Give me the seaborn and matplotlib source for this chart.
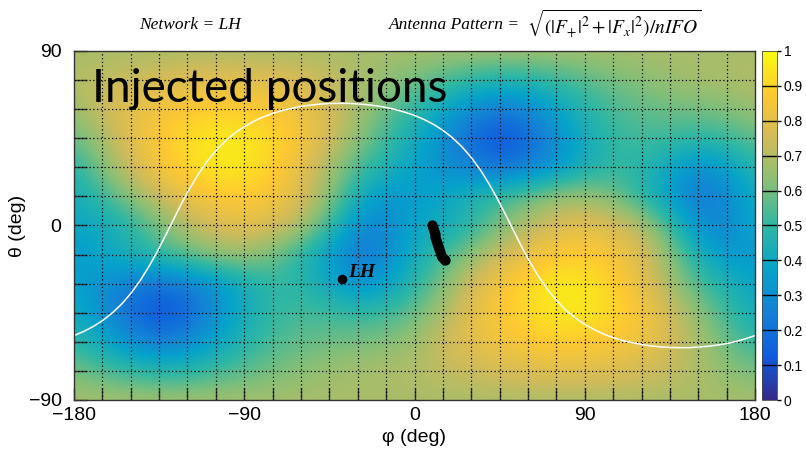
import numpy as np
import pandas as pd
import matplotlib
matplotlib.use("Agg")
import matplotlib.pyplot as plt
from matplotlib.colors import LinearSegmentedColormap
import seaborn as sns

# ---------------- data ----------------
phi_grid = list(range(-180, 181, 15))            # 25 columns
theta_grid = list(range(90, -91, -15))           # 13 rows (top -> bottom)

row_p90 = [0.68] * 25
row_p75 = [0.70,0.72,0.74,0.76,0.78,0.79,0.79,0.78,0.76,0.73,0.69,0.64,0.60,0.55,0.50,0.47,0.48,0.52,0.56,0.60,0.63,0.66,0.68,0.69,0.70]
row_p60 = [0.66,0.75,0.80,0.84,0.87,0.89,0.88,0.86,0.82,0.76,0.68,0.59,0.50,0.40,0.30,0.24,0.28,0.38,0.47,0.54,0.57,0.59,0.60,0.62,0.66]
row_p45 = [0.58,0.68,0.80,0.87,0.92,0.96,0.95,0.92,0.86,0.76,0.64,0.52,0.42,0.30,0.18,0.09,0.16,0.30,0.42,0.50,0.53,0.52,0.50,0.52,0.58]
row_p30 = [0.48,0.62,0.75,0.85,0.92,0.96,0.95,0.90,0.80,0.68,0.54,0.46,0.38,0.30,0.25,0.20,0.24,0.32,0.42,0.50,0.48,0.40,0.30,0.36,0.48]
row_p15 = [0.42,0.52,0.64,0.74,0.82,0.87,0.88,0.85,0.78,0.64,0.44,0.33,0.34,0.40,0.46,0.52,0.58,0.65,0.66,0.60,0.48,0.35,0.22,0.28,0.42]
row_0   = [0.40,0.40,0.48,0.60,0.70,0.77,0.80,0.77,0.70,0.52,0.30,0.27,0.40,0.40,0.48,0.60,0.70,0.77,0.80,0.77,0.70,0.52,0.30,0.27,0.40]
row_m15 = [0.34,0.40,0.46,0.52,0.58,0.65,0.66,0.60,0.48,0.35,0.22,0.28,0.42,0.52,0.64,0.74,0.82,0.87,0.88,0.85,0.78,0.64,0.44,0.33,0.34]
row_m30 = [0.38,0.30,0.25,0.20,0.24,0.32,0.42,0.50,0.48,0.40,0.30,0.36,0.48,0.62,0.75,0.85,0.92,0.96,0.95,0.90,0.80,0.68,0.54,0.46,0.38]
row_m45 = [0.42,0.30,0.18,0.09,0.16,0.30,0.42,0.50,0.53,0.52,0.50,0.52,0.58,0.68,0.80,0.87,0.92,0.96,0.95,0.92,0.86,0.76,0.64,0.52,0.42]
row_m60 = [0.50,0.40,0.30,0.24,0.28,0.38,0.47,0.54,0.57,0.59,0.60,0.62,0.66,0.75,0.80,0.84,0.87,0.89,0.88,0.86,0.82,0.76,0.68,0.59,0.50]
row_m75 = [0.60,0.55,0.50,0.47,0.48,0.52,0.56,0.60,0.63,0.66,0.68,0.69,0.70,0.72,0.74,0.76,0.78,0.79,0.79,0.78,0.76,0.73,0.69,0.64,0.60]
row_m90 = [0.68] * 25

# white curve (read every 5 deg)
curve_phi = list(range(-180, 181, 5))
curve_theta = [-56.8,-54.7,-52.2,-49.1,-45.3,-40.7,-35.1,-28.4,-20.5,-11.6,-2.0,7.8,17.1,25.4,
               32.6,38.6,43.6,47.7,51.0,53.7,56.0,57.8,59.3,60.4,61.4,62.1,62.6,62.9,63.0,63.0,
               62.7,62.3,61.7,60.9,59.8,58.4,56.8,54.7,52.2,49.1,45.3,40.7,35.1,28.4,20.5,11.6,
               2.0,-7.8,-17.1,-25.4,-32.6,-38.6,-43.6,-47.7,-51.0,-53.7,-56.0,-57.8,-59.3,-60.4,
               -61.4,-62.1,-62.6,-62.9,-63.0,-63.0,-62.7,-62.3,-61.7,-60.9,-59.8,-58.4,-56.8]

# injected positions (black blob)
inj_phi = [9.5, 9.8, 10.2, 10.6, 11.0, 11.4, 11.8, 12.3, 12.8, 13.4, 14.0, 14.7, 15.4, 16.0]
inj_theta = [0.0, -1.5, -3.0, -4.5, -6.0, -7.5, -9.0, -10.5, -12.0, -13.5, -15.0, -16.3, -17.3, -18.0]

# network point
net_phi = [-38.5]
net_theta = [-27.5]
net_label = "LH"

x_ticklabels = ["\u2212180", "\u221290", "0", "90", "180"]
y_ticklabels = ["\u221290", "0", "90"]
cbar_ticks = [0, 0.1, 0.2, 0.3, 0.4, 0.5, 0.6, 0.7, 0.8, 0.9, 1]
cbar_labels = ["0", "0.1", "0.2", "0.3", "0.4", "0.5", "0.6", "0.7", "0.8", "0.9", "1"]

# ---------------- style ----------------
sns.set_theme(style="white")
plt.rcParams["font.family"] = ["Liberation Sans", "DejaVu Sans"]
plt.rcParams["mathtext.fontset"] = "stix"

# ROOT kBird palette
stops = [0, .125, .25, .375, .5, .625, .75, .875, 1]
red = [0.2082, 0.0592, 0.0780, 0.0232, 0.1802, 0.5301, 0.8186, 0.9956, 0.9764]
green = [0.1664, 0.3599, 0.5041, 0.6419, 0.7178, 0.7492, 0.7328, 0.7862, 0.9832]
blue = [0.5293, 0.8684, 0.8385, 0.7914, 0.6425, 0.4662, 0.3499, 0.1968, 0.0539]
bird = LinearSegmentedColormap.from_list("bird", list(zip(stops, zip(red, green, blue))))

Z = np.array([row_p90, row_p75, row_p60, row_p45, row_p30, row_p15, row_0,
              row_m15, row_m30, row_m45, row_m60, row_m75, row_m90])

W, H = 806, 455
fig = plt.figure(figsize=(W / 100, H / 100), dpi=100)
x0, x1, y0, y1 = 74, 755, 51, 400
ax = fig.add_axes([x0 / W, 1 - y1 / H, (x1 - x0) / W, (y1 - y0) / H])
cax = fig.add_axes([762 / W, 1 - y1 / H, 15 / W, (y1 - y0) / H])

dphi = phi_grid[1] - phi_grid[0]
dth = theta_grid[0] - theta_grid[1]
im = ax.imshow(Z, extent=[phi_grid[0] - dphi / 2, phi_grid[-1] + dphi / 2,
                          theta_grid[-1] - dth / 2, theta_grid[0] + dth / 2],
               origin="upper", cmap=bird, vmin=0, vmax=1, aspect="auto",
               interpolation="bicubic", interpolation_stage="data", zorder=0)
ax.set_xlim(-180, 180)
ax.set_ylim(-90, 90)

# grid
for v in range(-165, 180, 15):
    ax.axvline(v, color="black", lw=0.9, ls=(0, (1, 2)), zorder=1)
for v in range(-75, 90, 15):
    ax.axhline(v, color="black", lw=0.9, ls=(0, (1, 2)), zorder=1)

# white curve
sns.lineplot(x=curve_phi, y=curve_theta, ax=ax, color="white", lw=1.1, sort=False,
             estimator=None, zorder=2)
# injected positions
sns.scatterplot(x=inj_phi, y=inj_theta, ax=ax, color="black", s=55, edgecolor="black",
                linewidth=0, zorder=3)
# network point
sns.scatterplot(x=net_phi, y=net_theta, ax=ax, color="black", s=48, edgecolor="black",
                linewidth=0, zorder=3)
ax.text(net_phi[0] + 3.5, net_theta[0] + 3.5, net_label, fontsize=14, fontweight="bold",
        fontstyle="italic", family=["Liberation Serif"], color="black",
        va="center", ha="left", zorder=4)

# big annotation
ax.text(-170.5, 63.5, "Injected positions", fontsize=33, family=["Lato", "DejaVu Sans"],
        color="black", va="baseline", ha="left", zorder=5)

# ticks
ax.set_xticks(range(-180, 181, 15))
ax.set_xticklabels([x_ticklabels[i // 6] if i % 6 == 0 else "" for i in range(25)])
ax.set_yticks(range(-90, 91, 15))
ax.set_yticklabels([y_ticklabels[i // 6] if i % 6 == 0 else "" for i in range(13)])
ax.tick_params(axis="both", direction="in", length=9, width=1, color="#333333",
               labelsize=14, labelcolor="black", bottom=True, left=True, top=False, right=False)
ax.tick_params(axis="x", pad=5)
ax.tick_params(axis="y", pad=9)
ax.set_xlabel("\u03c6 (deg)", fontsize=14, labelpad=4, color="black")
ax.set_ylabel("\u03b8 (deg)", fontsize=14, labelpad=2, color="black")
for s in ax.spines.values():
    s.set_color("#333333")
    s.set_linewidth(1.0)

# colorbar
cb = fig.colorbar(im, cax=cax)
cb.set_ticks(cbar_ticks)
cb.set_ticklabels(cbar_labels)
cax.tick_params(labelsize=10, length=3, width=1, color="black", labelcolor="black",
                direction="out", pad=2)
for t in cbar_ticks[1:-1]:
    cax.axhline(t, color="black", lw=1)
cb.outline.set_linewidth(0.6)
cb.outline.set_edgecolor("#444444")

# title
fig.text(190 / W, 1 - 25 / H, "Network = LH", fontsize=12.5, fontstyle="italic",
         family=["Liberation Serif"], ha="center", va="center", color="black")
fig.text(455 / W, 1 - 25 / H, "Antenna Pattern =", fontsize=12.5, fontstyle="italic",
         family=["Liberation Serif"], ha="center", va="center", color="black")
fig.text(527 / W, 1 - 24 / H, r"$\sqrt{(|F_{+}|^{2}+|F_{x}|^{2})/nIFO}$", fontsize=14,
         ha="left", va="center", color="black")

fig.savefig("out.png", dpi=100)
